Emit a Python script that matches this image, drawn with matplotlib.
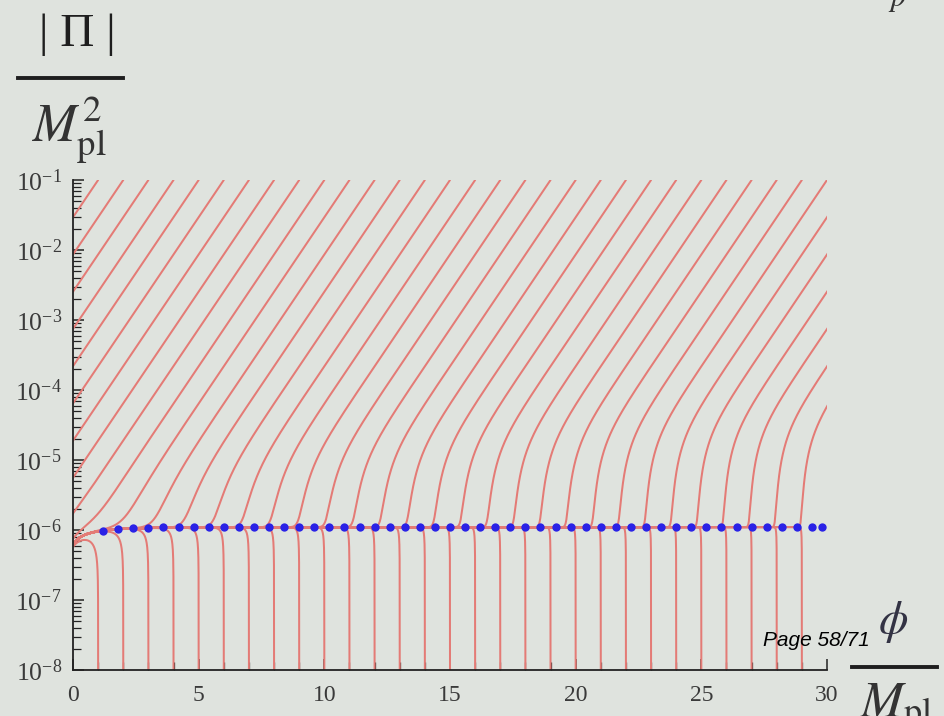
import numpy as np
import matplotlib
matplotlib.use("Agg")
import matplotlib.pyplot as plt
from matplotlib.ticker import FixedLocator, NullFormatter, LogFormatterMathtext, MultipleLocator
from matplotlib.lines import Line2D

plt.rcParams['mathtext.fontset'] = 'stix'
plt.rcParams['font.family'] = ['Liberation Serif', 'DejaVu Serif']

# ---------------- data ----------------
# inflaton mass (in reduced Planck units) giving the attractor level |Pi| ~ 1.1e-6
mass = 1.347e-6
# trajectories entering from the top (|Pi| = 0.1) at these field values (those beyond 30 enter from the right edge)
upper_phi0 = [float(v) for v in range(1, 37)]
upper_pi0 = 0.1
# trajectories starting from rest at the bottom (|Pi| = 1e-8)
lower_phi0 = [float(v) for v in range(1, 30)]
lower_pi0 = 1e-8
# blue dotted attractor
blue_phi = [1.2, 1.8, 2.4, 3.0, 3.6, 4.2, 4.8, 5.4, 6.0, 6.6, 7.2, 7.8, 8.4, 9.0, 9.6,
            10.2, 10.8, 11.4, 12.0, 12.6, 13.2, 13.8, 14.4, 15.0, 15.6, 16.2, 16.8, 17.4,
            18.0, 18.6, 19.2, 19.8, 20.4, 21.0, 21.6, 22.2, 22.8, 23.4, 24.0, 24.6, 25.2,
            25.8, 26.4, 27.0, 27.6, 28.2, 28.8, 29.4, 29.8]
blue_pi = [0.98e-6, 1.02e-6, 1.06e-6, 1.08e-6] + [1.1e-6] * 45
xticks = [0, 5, 10, 15, 20, 25, 30]
yticks = [1e-8, 1e-7, 1e-6, 1e-5, 1e-4, 1e-3, 1e-2, 1e-1]

# ---------------- trajectories (phase-space flow) ----------------
phi = np.array(upper_phi0 + lower_phi0)
pi = -np.array([upper_pi0] * len(upper_phi0) + [lower_pi0] * len(lower_phi0))


def rhs(f, p):
    H = np.sqrt((p ** 2 + mass ** 2 * f ** 2) / 6.0)
    return p / H, -3.0 * p - mass ** 2 * f / H


dN = 0.01
hist_f = [phi.copy()]
hist_p = [pi.copy()]
alive = np.ones_like(phi, dtype=bool)
for step in range(60000):
    k1f, k1p = rhs(phi, pi)
    k2f, k2p = rhs(phi + 0.5 * dN * k1f, pi + 0.5 * dN * k1p)
    k3f, k3p = rhs(phi + 0.5 * dN * k2f, pi + 0.5 * dN * k2p)
    k4f, k4p = rhs(phi + dN * k3f, pi + dN * k3p)
    nf = phi + dN / 6 * (k1f + 2 * k2f + 2 * k3f + k4f)
    np_ = pi + dN / 6 * (k1p + 2 * k2p + 2 * k3p + k4p)
    phi = np.where(alive, nf, phi)
    pi = np.where(alive, np_, pi)
    hist_f.append(np.where(alive, phi, np.nan))
    hist_p.append(np.where(alive, pi, np.nan))
    alive = alive & (phi > -0.05)
    if not alive.any():
        break
F = np.array(hist_f)
P = np.abs(np.array(hist_p))

# ---------------- figure ----------------
bg = '#dfe3de'
W, Hpx = 945, 716
fig = plt.figure(figsize=(W / 100, Hpx / 100), dpi=100, facecolor=bg)
ax = fig.add_axes([73 / W, 46 / Hpx, 754 / W, 490 / Hpx], facecolor=bg)

red = '#e47b76'
for i in range(F.shape[1]):
    ax.plot(F[:, i], P[:, i], color=red, lw=1.45, solid_capstyle='round')

ax.plot(blue_phi, blue_pi, linestyle='none', marker='o', markersize=6,
        color='#2a22e6', markeredgewidth=0, zorder=5)

ax.set_yscale('log')
ax.set_xlim(0, 30)
ax.set_ylim(1e-8, 1e-1)
for s in ('top', 'right'):
    ax.spines[s].set_visible(False)
for s in ('left', 'bottom'):
    ax.spines[s].set_color('#222222')
    ax.spines[s].set_linewidth(1.3)

ax.set_xticks(xticks)
ax.xaxis.set_minor_locator(MultipleLocator(1))
ax.yaxis.set_major_locator(FixedLocator(yticks))
ax.yaxis.set_major_formatter(LogFormatterMathtext())
minor_y = [s * t for t in yticks[:-1] for s in range(2, 10)]
ax.yaxis.set_minor_locator(FixedLocator(minor_y))
ax.yaxis.set_minor_formatter(NullFormatter())
ax.tick_params(axis='both', which='major', direction='in', length=8, width=1.1,
               color='#222222', labelcolor='#3a3a3a')
ax.tick_params(axis='both', which='minor', direction='in', length=5.5, width=0.9,
               color='#222222')
ax.tick_params(axis='x', which='major', pad=11, labelsize=17)
ax.tick_params(axis='y', which='major', pad=8, labelsize=18.5)

# axis labels as stacked fractions
dark = '#1e1e1e'
fig.text(77 / W, 1 - 35 / Hpx, '| \u03a0 |', fontsize=34, ha='center', va='center',
         color=dark, family=['Liberation Serif', 'DejaVu Serif'])
fig.add_artist(Line2D([18 / W, 123 / W], [1 - 78 / Hpx, 1 - 78 / Hpx], color=dark, lw=2.8))
fig.text(69 / W, 1 - 130 / Hpx, r'$M_{\mathrm{pl}}^{2}$', fontsize=38, ha='center', va='center', color='#333333')

fig.text(893 / W, 1 - 622 / Hpx, r'$\phi$', fontsize=34, ha='center', va='center', color='#333344')
fig.add_artist(Line2D([852 / W, 937 / W], [1 - 667 / Hpx, 1 - 667 / Hpx], color=dark, lw=2.8))
fig.text(896 / W, 1 - 682 / Hpx, r'$M_{\mathrm{pl}}$', fontsize=37, ha='center', va='top', color='#333333')

fig.text(763 / W, 1 - 640 / Hpx, 'Page 58/71', fontsize=15, style='italic',
         family=['Liberation Sans', 'DejaVu Sans'], ha='left', va='center', color='black')
fig.text(897 / W, 1 - 6 / Hpx, r'$p$', fontsize=22, ha='center', va='baseline', color='#333333')

fig.savefig('out.png', dpi=100, facecolor=bg)
